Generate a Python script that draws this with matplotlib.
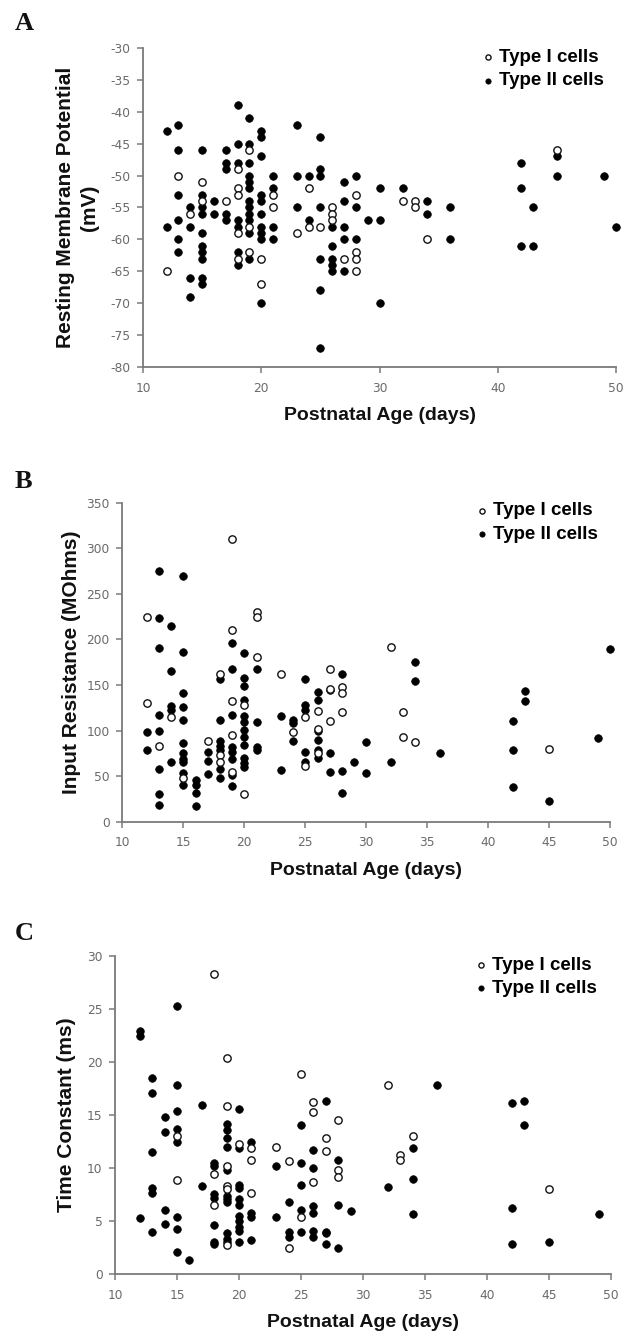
import matplotlib
matplotlib.use("Agg")
import matplotlib.pyplot as plt

plt.rcParams["axes.unicode_minus"] = False

# ---- data (day -> values) ----
# A: resting membrane potential (mV)
a_type1 = {12: [-65], 13: [-50], 14: [-56], 15: [-51, -54], 17: [-54],
           18: [-49, -52, -53, -59, -63], 19: [-46, -58, -62], 20: [-63, -67],
           21: [-53, -55], 23: [-59], 24: [-52, -58], 25: [-58],
           26: [-55, -56, -57], 27: [-63], 28: [-53, -62, -63, -65],
           32: [-54], 33: [-54, -55], 34: [-60], 45: [-46]}
a_type2 = {12: [-43, -58], 13: [-42, -46, -53, -57, -60, -62],
           14: [-55, -58, -66, -69],
           15: [-46, -53, -55, -56, -59, -61, -62, -63, -66, -67],
           16: [-54, -56], 17: [-46, -48, -49, -56, -57],
           18: [-39, -45, -48, -57, -58, -62, -64],
           19: [-41, -45, -48, -50, -51, -52, -54, -55, -56, -57, -59, -63],
           20: [-43, -44, -47, -53, -54, -56, -58, -59, -60, -70],
           21: [-50, -52, -58, -60], 23: [-42, -50, -55], 24: [-50, -57],
           25: [-44, -49, -50, -55, -63, -68, -77],
           26: [-58, -61, -63, -64, -65], 27: [-51, -54, -58, -60, -65],
           28: [-50, -55, -60], 29: [-57], 30: [-52, -57, -70], 32: [-52],
           34: [-54, -56], 36: [-55, -60], 42: [-48, -52, -61], 43: [-55, -61],
           45: [-47, -50], 49: [-50], 50: [-58]}

# B: input resistance (MOhms)
b_type1 = {12: [225, 130], 13: [83], 14: [115], 15: [48], 17: [88],
           18: [162, 73, 65], 19: [310, 210, 132, 95, 55], 20: [128, 30],
           21: [230, 225, 181], 23: [162], 24: [98], 25: [115, 61],
           26: [122, 102, 75], 27: [168, 146, 110], 28: [148, 141, 120],
           32: [192], 33: [120, 93], 34: [87], 45: [80]}
b_type2 = {12: [98, 79], 13: [275, 223, 191, 117, 100, 58, 30, 18],
           14: [215, 165, 127, 123, 66],
           15: [270, 186, 141, 126, 112, 86, 75, 69, 65, 53, 40],
           16: [46, 40, 31, 17], 17: [77, 67, 52],
           18: [157, 112, 88, 83, 79, 58, 48],
           19: [196, 167, 117, 82, 77, 69, 51, 39],
           20: [185, 158, 149, 133, 116, 109, 101, 93, 84, 70, 64, 60],
           21: [167, 109, 82, 79], 23: [116, 57], 24: [112, 108, 88],
           25: [157, 128, 123, 77, 66], 26: [142, 134, 99, 90, 79, 70],
           27: [144, 75, 55], 28: [162, 56, 31], 29: [66], 30: [87, 53],
           32: [66], 34: [175, 154], 36: [75], 42: [111, 79, 38],
           43: [143, 132], 45: [23], 49: [92], 50: [190]}

# C: time constant (ms)
c_type1 = {15: [13.0, 8.9], 18: [28.3, 9.5, 6.5],
           19: [20.4, 15.9, 10.2, 8.3, 8.0, 2.8], 20: [12.3],
           21: [11.9, 10.8, 7.7], 23: [12.0], 24: [10.7, 2.5], 25: [18.9, 5.4],
           26: [16.2, 15.3, 8.7], 27: [12.8, 11.6], 28: [14.5, 9.8, 9.2],
           32: [17.8], 33: [11.2, 10.8], 34: [13.0], 45: [8.0]}
c_type2 = {12: [22.9, 22.5, 5.3], 13: [18.5, 17.1, 11.5, 8.1, 7.7, 4.0],
           14: [14.8, 13.4, 6.1, 4.7],
           15: [25.3, 17.8, 15.4, 13.7, 12.5, 5.4, 4.3, 2.1], 16: [1.35],
           17: [16.0, 8.3], 18: [10.5, 10.2, 7.6, 7.2, 4.6, 3.0, 2.9],
           19: [14.2, 13.6, 12.8, 12.0, 9.8, 7.4, 7.1, 6.8, 3.9, 3.3, 3.0],
           20: [15.6, 11.9, 8.4, 8.1, 7.1, 6.5, 5.5, 5.0, 4.5, 4.1, 3.0],
           21: [12.5, 5.75, 5.4, 3.2], 23: [10.2, 5.4], 24: [6.8, 4.0, 3.5],
           25: [14.1, 10.5, 8.4, 6.1, 4.0], 26: [11.7, 10.0, 6.4, 5.8, 4.1, 3.5],
           27: [16.3, 4.0, 3.9, 2.9], 28: [10.8, 6.5, 2.45], 29: [6.0],
           32: [8.2], 34: [11.9, 9.0, 5.7], 36: [17.8], 42: [16.1, 6.25, 2.86],
           43: [16.3, 14.1], 45: [3.07], 49: [5.7]}

labels = ["Type I cells", "Type II cells"]

W, H = 624, 1339
fig = plt.figure(figsize=(W / 100, H / 100), dpi=100)

GRAY = "#7a7a7a"
TXT = "#111111"
BOLD = ["Liberation Sans", "DejaVu Sans"]


def flat(d):
    xs, ys = [], []
    for k, vals in d.items():
        for v in vals:
            xs.append(k)
            ys.append(v)
    return xs, ys


def add_ax(left, right, top, bottom):
    # pixel box -> figure fraction
    return fig.add_axes([left / W, 1 - bottom / H, (right - left) / W, (bottom - top) / H])


def panel(ax, t1, t2, ylim, yticks, xticks, ylabel, ylabelpad, leg_xy):
    x2, y2 = flat(t2)
    x1, y1 = flat(t1)
    h2 = ax.scatter(x2, y2, s=30, c="black", edgecolors="black", linewidths=0.5,
                    zorder=3, clip_on=False)
    h1 = ax.scatter(x1, y1, s=28, facecolors="white", edgecolors="#111111",
                    linewidths=1.0, zorder=4, clip_on=False)
    ax.set_xlim(10, 50)
    ax.set_ylim(*ylim)
    ax.set_xticks(xticks)
    ax.set_yticks(yticks)
    for s in ["top", "right"]:
        ax.spines[s].set_visible(False)
    for s in ["left", "bottom"]:
        ax.spines[s].set_color(GRAY)
        ax.spines[s].set_linewidth(1.3)
    ax.tick_params(direction="out", length=4, width=1.1, color=GRAY,
                   labelcolor="#6a6a6a", labelsize=8.8)
    ax.tick_params(axis="x", pad=6.5)
    ax.tick_params(axis="y", pad=5)
    ax.set_xlabel("Postnatal Age (days)", fontsize=14, fontweight="bold",
                  family=BOLD, color=TXT, labelpad=9)
    ax.set_ylabel(ylabel, fontsize=15, fontweight="bold", family=BOLD,
                  color=TXT, labelpad=ylabelpad, linespacing=1.35)
    fs = 13.5
    lx, ly = leg_xy
    ax.legend([h1, h2], labels, loc="upper left",
              bbox_to_anchor=((lx - 4.7) / W, 1 - (ly - 11) / H),
              bbox_transform=fig.transFigure, frameon=False, borderpad=0,
              borderaxespad=0, handlelength=0.5, handletextpad=0.35,
              labelspacing=0.33, markerscale=0.7,
              prop={"family": BOLD, "weight": "bold", "size": fs})


axA = add_ax(143, 616, 48, 367)
panel(axA, a_type1, a_type2, (-80, -30), range(-80, -29, 5), range(10, 51, 10),
      "Resting Membrane Potential\n(mV)", 8, (488, 60))

axB = add_ax(122.3, 610.3, 502.7, 821.7)
panel(axB, b_type1, b_type2, (0, 350), range(0, 351, 50), range(10, 51, 5),
      "Input Resistance (MOhms)", 4, (481.7, 513.3))

axC = add_ax(115, 611, 956, 1274.3)
panel(axC, c_type1, c_type2, (0, 30), range(0, 31, 5), range(10, 51, 5),
      "Time Constant (ms)", 8, (480.7, 967.7))

serif = ["Liberation Serif", "DejaVu Serif"]
for letter, ytop in [("A", 12), ("B", 470), ("C", 922)]:
    fig.text(15 / W, 1 - ytop / H, letter, fontsize=19, fontweight="bold",
             family=serif, va="top", ha="left", color=TXT)

fig.savefig("out.png", dpi=100)
